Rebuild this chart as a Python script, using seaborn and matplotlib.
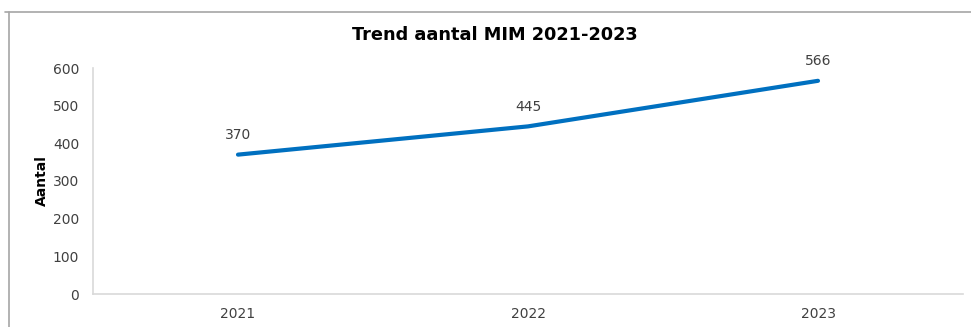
import matplotlib
matplotlib.use("Agg")
import matplotlib.pyplot as plt
from matplotlib.lines import Line2D
import seaborn as sns
import pandas as pd

years = ["2021", "2022", "2023"]
counts = [370, 445, 566]
y_ticks = [0, 100, 200, 300, 400, 500, 600]

sns.set_theme(style="white")
plt.rcParams["font.family"] = ["DejaVu Sans"]

df = pd.DataFrame({"jaar": years, "aantal": counts})

W, H = 971, 327
fig = plt.figure(figsize=(W / 100, H / 100), dpi=100)
ax = fig.add_axes([93 / W, (H - 294) / H, (963 - 93) / W, (294 - 68) / H])

sns.lineplot(data=df, x="jaar", y="aantal", ax=ax, color="#0070C0",
             linewidth=3.0, sort=False, solid_capstyle="round")

ax.set_xlim(-0.5, 2.5)
ax.set_ylim(0, 600)
ax.set_yticks(y_ticks)
ax.set_yticklabels([str(v) for v in y_ticks])

text_color = "#404040"
ax.tick_params(axis="y", length=0, pad=10, labelsize=10, labelcolor=text_color)
ax.tick_params(axis="x", length=0, pad=9, labelsize=10, labelcolor=text_color)
ax.set_xlabel("")
ax.set_ylabel("Aantal", fontsize=10, fontweight="bold", color="black", labelpad=3)

for side in ["top", "right"]:
    ax.spines[side].set_visible(False)
for side in ["left", "bottom"]:
    ax.spines[side].set_color("#D9D9D9")
    ax.spines[side].set_linewidth(1.2)

for i, v in enumerate(counts):
    ax.annotate(str(v), (i, v), xytext=(0, 14), textcoords="offset points",
                ha="center", va="center", fontsize=10, color=text_color)

fig.text(495 / W, 1 - 35 / H, "Trend aantal MIM 2021-2023", ha="center", va="center",
         fontsize=12.8, fontweight="bold", color="black")

# outer chart frame (top and left edges)
fig.add_artist(Line2D([5 / W, 1], [1 - 11.5 / H, 1 - 11.5 / H], transform=fig.transFigure,
                      color="#A6A6A6", linewidth=1.2))
fig.add_artist(Line2D([9 / W, 9 / W], [0, 1 - 11.5 / H], transform=fig.transFigure,
                      color="#A6A6A6", linewidth=1.2))

fig.savefig("out.png", dpi=100, facecolor="white")
